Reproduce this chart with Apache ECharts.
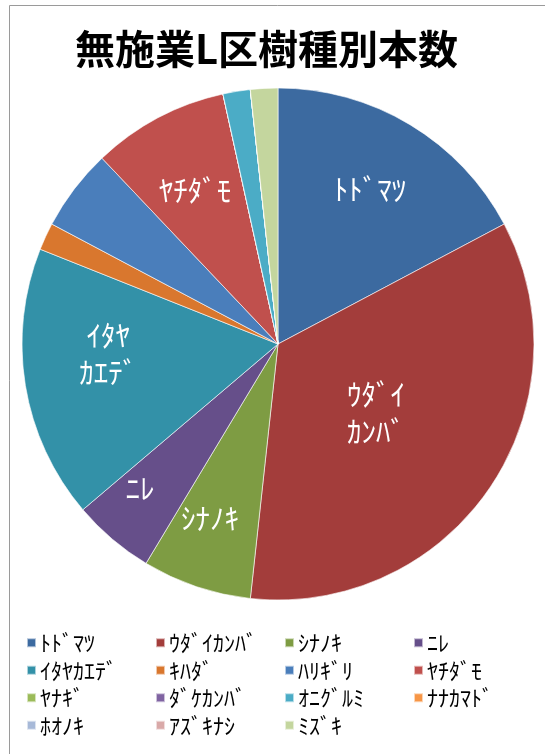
<!DOCTYPE html>
<html>
<head>
<meta charset="utf-8">
<script src="https://cdn.jsdelivr.net/npm/echarts@6/dist/echarts.min.js"></script>
<style>
  html, body { margin: 0; padding: 0; background: #fff; }
  #main { width: 545px; height: 754px; }
</style>
</head>
<body>
<div id="main"></div>
<script>
// 無施業L区 樹種別本数
var species = ['ﾄﾄﾞﾏﾂ', 'ｳﾀﾞｲｶﾝﾊﾞ', 'ｼﾅﾉｷ', 'ﾆﾚ', 'ｲﾀﾔｶｴﾃﾞ', 'ｷﾊﾀﾞ', 'ﾊﾘｷﾞﾘ', 'ﾔﾁﾀﾞﾓ',
               'ﾔﾅｷﾞ', 'ﾀﾞｹｶﾝﾊﾞ', 'ｵﾆｸﾞﾙﾐ', 'ﾅﾅｶﾏﾄﾞ', 'ﾎｵﾉｷ', 'ｱｽﾞｷﾅｼ', 'ﾐｽﾞｷ'];
var counts = [10, 20, 4, 3, 10, 1, 3, 5, 0, 0, 1, 0, 0, 0, 1];
// スライス内に表示するラベル
var sliceLabels = ['ﾄﾄﾞﾏﾂ', 'ｳﾀﾞｲ\nｶﾝﾊﾞ', 'ｼﾅﾉｷ', 'ﾆﾚ', 'ｲﾀﾔ\nｶｴﾃﾞ', '', '', 'ﾔﾁﾀﾞﾓ',
                   '', '', '', '', '', '', ''];

var colors = ['#3c6aa0', '#a33d3b', '#7e9c43', '#664f8a', '#3391a8', '#d9772e', '#4a7ebb', '#c0504d',
              '#9bbb59', '#8064a2', '#4bacc6', '#f79646', '#a7b9d8', '#d9a9a8', '#c4d69e'];

// ラベルの置き場所 [角度(上から時計回り), 半径]
var labelPos = {
    0: [30.9, 179],
    1: [125.2, 120],
    2: [201.2, 188],
    3: [223.6, 200],
    4: [266.6, 170],
    7: [331.5, 174]
};
var center = [278, 344];

var myChart = echarts.init(document.getElementById('main'));

var data = species.map(function (name, i) {
    return {
        name: name,
        value: counts[i],
        label: { show: sliceLabels[i] !== '', formatter: sliceLabels[i] }
    };
});

option = {
    color: colors,
    graphic: [{
        type: 'rect',
        shape: { x: 9.5, y: 5.5, width: 600, height: 800 },
        style: { fill: 'none', stroke: '#9a9a9a', lineWidth: 1 },
        silent: true
    }],
    title: {
        text: '無施業L区樹種別本数',
        left: 70,
        top: 24,
        textStyle: {
            fontFamily: 'Noto Sans CJK JP',
            fontSize: 40,
            fontWeight: 'bold',
            color: '#000'
        }
    },
    legend: {
        data: species,
        left: 21,
        top: 624,
        width: 540,
        itemWidth: 9,
        itemHeight: 9,
        itemGap: 0,
        icon: 'rect',
        textStyle: {
            fontFamily: 'Noto Sans CJK JP',
            fontSize: 22,
            color: '#000',
            width: 115,
            lineHeight: 27.5,
            padding: [0, 0, 0, -1]
        }
    },
    series: [
        {
            name: '樹種別本数',
            type: 'pie',
            center: center,
            radius: 256,
            startAngle: 90,
            clockwise: true,
            avoidLabelOverlap: false,
            itemStyle: {
                borderColor: 'rgba(255,255,255,0.6)',
                borderWidth: 1
            },
            label: {
                position: 'inside',
                color: '#fff',
                fontFamily: 'Noto Sans CJK JP',
                fontSize: 29,
                lineHeight: 37
            },
            labelLine: { show: false },
            labelLayout: function (p) {
                var pos = labelPos[p.dataIndex];
                if (!pos) return {};
                var a = pos[0] * Math.PI / 180;
                var tx = center[0] + pos[1] * Math.sin(a);
                var ty = center[1] - pos[1] * Math.cos(a);
                var rc = p.labelRect;
                return {
                    dx: tx - (rc.x + rc.width / 2),
                    dy: ty - (rc.y + rc.height / 2)
                };
            },
            emphasis: { disabled: true },
            data: data
        }
    ]
};

myChart.setOption(option);
</script>
</body>
</html>
